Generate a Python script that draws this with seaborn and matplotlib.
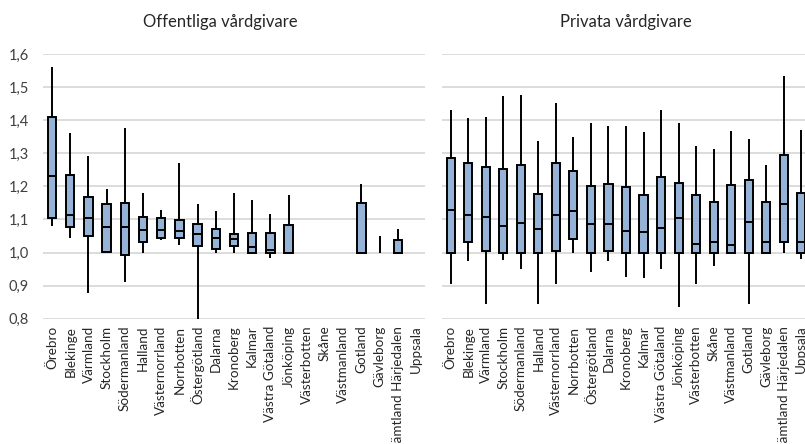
import numpy as np
import pandas as pd
import matplotlib
matplotlib.use("Agg")
import matplotlib.pyplot as plt
import matplotlib.ticker as mticker
import seaborn as sns

regions = ["Örebro", "Blekinge", "Värmland", "Stockholm", "Södermanland", "Halland",
           "Västernorrland", "Norrbotten", "Östergötland", "Dalarna", "Kronoberg", "Kalmar",
           "Västra Götaland", "Jönköping", "Västerbotten", "Skåne", "Västmanland", "Gotland",
           "Gävleborg", "Jämtland Härjedalen", "Uppsala"]

# Offentliga vårdgivare: [min, q1, median, q3, max] (None = no data)
off_min = [1.080, 1.043, 0.877, 1.000, 0.910, 1.000, 1.039, 1.022, 0.800, 1.000, 1.000, 1.000,
           0.982, 1.000, None, None, None, 1.000, 1.000, 1.000, None]
off_q1 = [1.104, 1.078, 1.050, 1.001, 0.992, 1.031, 1.045, 1.043, 1.019, 1.011, 1.019, 1.000,
          0.999, 1.000, None, None, None, 1.000, 1.000, 1.000, None]
off_med = [1.230, 1.114, 1.105, 1.077, 1.077, 1.069, 1.069, 1.066, 1.055, 1.044, 1.042, 1.018,
           1.007, 1.000, None, None, None, 1.000, 1.000, 1.000, None]
off_q3 = [1.411, 1.233, 1.167, 1.148, 1.151, 1.106, 1.103, 1.097, 1.085, 1.070, 1.055, 1.060,
          1.059, 1.082, None, None, None, 1.151, 1.000, 1.038, None]
off_max = [1.562, 1.360, 1.291, 1.191, 1.375, 1.181, 1.128, 1.271, 1.146, 1.125, 1.181, 1.160,
           1.117, 1.173, None, None, None, 1.206, 1.050, 1.070, None]

# Privata vårdgivare
pri_min = [0.904, 0.975, 0.843, 0.977, 0.949, 0.843, 0.904, 1.000, 0.941, 0.975, 0.927, 0.922,
           0.951, 0.834, 0.904, 0.960, 1.000, 0.843, 0.996, 1.000, 0.981]
pri_q1 = [1.000, 1.033, 1.006, 1.000, 1.000, 1.000, 1.004, 1.040, 1.000, 1.004, 1.000, 1.000,
          1.000, 1.000, 1.000, 1.000, 1.000, 1.000, 1.000, 1.033, 1.000]
pri_med = [1.128, 1.114, 1.108, 1.079, 1.089, 1.071, 1.114, 1.126, 1.085, 1.085, 1.066, 1.061,
           1.074, 1.103, 1.026, 1.033, 1.023, 1.092, 1.031, 1.147, 1.031]
pri_q3 = [1.285, 1.272, 1.257, 1.252, 1.265, 1.177, 1.272, 1.247, 1.202, 1.208, 1.198, 1.175,
          1.228, 1.210, 1.175, 1.152, 1.203, 1.218, 1.152, 1.295, 1.180]
pri_max = [1.430, 1.408, 1.410, 1.474, 1.477, 1.338, 1.451, 1.348, 1.392, 1.383, 1.381, 1.363,
           1.430, 1.392, 1.322, 1.312, 1.366, 1.342, 1.264, 1.534, 1.369]

y_ticks = [0.8, 0.9, 1.0, 1.1, 1.2, 1.3, 1.4, 1.5, 1.6]
titles = ["Offentliga vårdgivare", "Privata vårdgivare"]


def to_long(mins, q1s, meds, q3s, maxs):
    rows = []
    for r, a, b, c, d, e in zip(regions, mins, q1s, meds, q3s, maxs):
        if a is None:
            continue
        for v in (a, b, c, d, e):
            rows.append({"region": r, "value": v})
    return pd.DataFrame(rows)


df_off = to_long(off_min, off_q1, off_med, off_q3, off_max)
df_pri = to_long(pri_min, pri_q1, pri_med, pri_q3, pri_max)

sns.set_theme(style="white")
plt.rcParams["font.family"] = ["Lato", "DejaVu Sans"]

W, H = 805, 444
fig = plt.figure(figsize=(W / 100, H / 100), dpi=100)
y_bot, y_top = 318.7, 54
ax1 = fig.add_axes([43 / W, (H - y_bot) / H, 382 / W, (y_bot - y_top) / H])
ax2 = fig.add_axes([442 / W, (H - y_bot) / H, 368 / W, (y_bot - y_top) / H])

box_color = "#95B3D7"
for ax, df, q1s, q3s in ((ax1, df_off, off_q1, off_q3), (ax2, df_pri, pri_q1, pri_q3)):
    sns.boxplot(data=df, x="region", y="value", order=regions, ax=ax,
                whis=(0, 100), width=0.46, color=box_color, saturation=1,
                showcaps=False, showfliers=False, linewidth=1.4, linecolor="black",
                medianprops=dict(color="black", linewidth=1.4),
                boxprops=dict(facecolor=box_color, edgecolor="black", linewidth=1.4),
                whiskerprops=dict(color="black", linewidth=1.4))
    # zero-height boxes are not drawn in the reference (only the whisker shows)
    flat = [i for i, (a, b) in enumerate(zip(q1s, q3s)) if a is not None and a == b]
    for p in ax.patches:
        verts = p.get_path().vertices
        if len(verts) and np.ptp(verts[:, 1]) < 1e-9:
            p.set_visible(False)
    for ln in ax.lines:
        xd = np.asarray(ln.get_xdata(), dtype=float)
        yd = np.asarray(ln.get_ydata(), dtype=float)
        if len(xd) == 2 and np.ptp(yd) < 1e-9 and np.ptp(xd) > 0:
            if any(abs(xd.mean() - i) < 0.3 for i in flat):
                ln.set_visible(False)
    ax.set_ylim(0.8, 1.6)
    ax.set_xlim(-0.5, len(regions) - 0.5)
    ax.set_yticks(y_ticks)
    ax.yaxis.set_major_formatter(mticker.FuncFormatter(lambda v, p: f"{v:.1f}".replace(".", ",")))
    ax.grid(axis="y", color="#d9d9d9", linewidth=1.3)
    ax.set_axisbelow(True)
    for s in ax.spines.values():
        s.set_visible(False)
    ax.set_xlabel("")
    ax.set_ylabel("")
    ax.tick_params(axis="x", rotation=90, labelsize=9.75, length=0, pad=5, colors="#262626")
    ax.tick_params(axis="y", labelsize=10.5, length=0, pad=10, colors="#404040")

ax2.tick_params(axis="y", labelleft=False)

fig.text(220 / W, 1 - 22 / H, titles[0], ha="center", va="center", fontsize=12, color="#262626")
fig.text(626 / W, 1 - 22 / H, titles[1], ha="center", va="center", fontsize=12, color="#262626")

fig.savefig("out.png", dpi=100)
